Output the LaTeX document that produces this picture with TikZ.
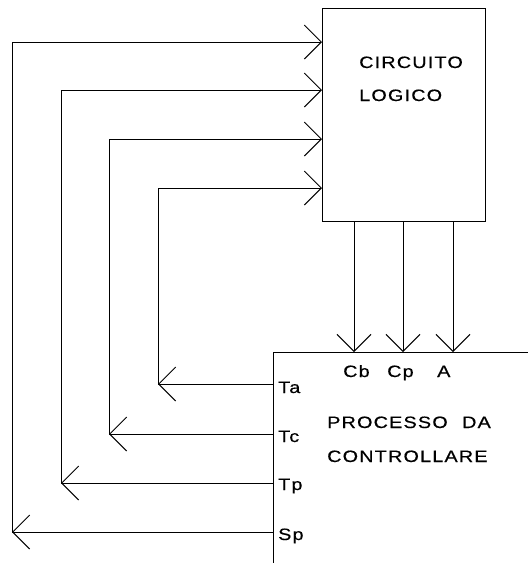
\documentclass[tikz,border=0pt]{standalone}
\usepackage{fontspec}
\setmainfont{Liberation Sans}[LetterSpace=6,FakeBold=0.4]
\usetikzlibrary{arrows.meta}
\newcommand{\widetxt}[1]{\scalebox{1.2}[1]{#1}}
\tikzset{
  wire/.style={line width=1pt, line cap=rect},
  tip/.style={-{Straight Barb[length=17pt,width=34pt,line width=1pt]}},
  lbl/.style={anchor=base west, inner sep=0pt, font=\fontsize{16.5pt}{18pt}\selectfont},
  blk/.style={draw, line width=1pt, minimum width=163pt, minimum height=213pt, inner sep=0pt}
}
\begin{document}
\begin{tikzpicture}[x=1pt,y=-1pt]
\useasboundingbox (0,0) rectangle (528,563);
% top block
\node[blk] (circ) at (403.5,114.5) {};
\node[lbl] (t1) at (359,68) {\widetxt{CIRCUITO}};
\node[lbl] (t2) at (359,101) {\widetxt{LOGICO}};
% bottom block (open)
\coordinate (pr) at (528,352);
\coordinate (ptl) at (273,352);
\coordinate (pbl) at (273,563);
\draw[wire] (pr) -- (ptl) -- (pbl);
\node[lbl] (t3) at (327,428) {\widetxt{PROCESSO\hspace{12pt}DA}};
\node[lbl] (t4) at (327,462) {\widetxt{CONTROLLARE}};
\node[lbl] (cb) at (343,377) {\widetxt{Cb}};
\node[lbl] (cp) at (387,377) {\widetxt{Cp}};
\node[lbl] (ca) at (437,377) {\widetxt{A}};
\node[lbl] (ta) at (278,393) {\widetxt{Ta}};
\node[lbl] (tc) at (278,442) {\widetxt{Tc}};
\node[lbl] (tp) at (278,490) {\widetxt{Tp}};
\node[lbl] (sp) at (278,540) {\widetxt{Sp}};
% vertical outputs of logic block
\foreach \x/\n in {354/1,403/2,453/3}{
  \coordinate (o\n) at (\x,221);
  \coordinate (i\n) at (\x,352);
  \draw[wire,tip] (o\n) -- (i\n);
}
% feedback loops
\foreach \xl/\yin/\yout/\n in {12/42/532/a,61/90/483/b,109/139/434/c,158/188/384/d}{
  \coordinate (s\n) at (273,\yout);
  \coordinate (c\n) at (\xl,\yout);
  \coordinate (e\n) at (322,\yin);
  \draw[wire,tip] (s\n) -- (c\n);
  \draw[wire,tip] (c\n) |- (e\n);
}
\end{tikzpicture}
\end{document}
